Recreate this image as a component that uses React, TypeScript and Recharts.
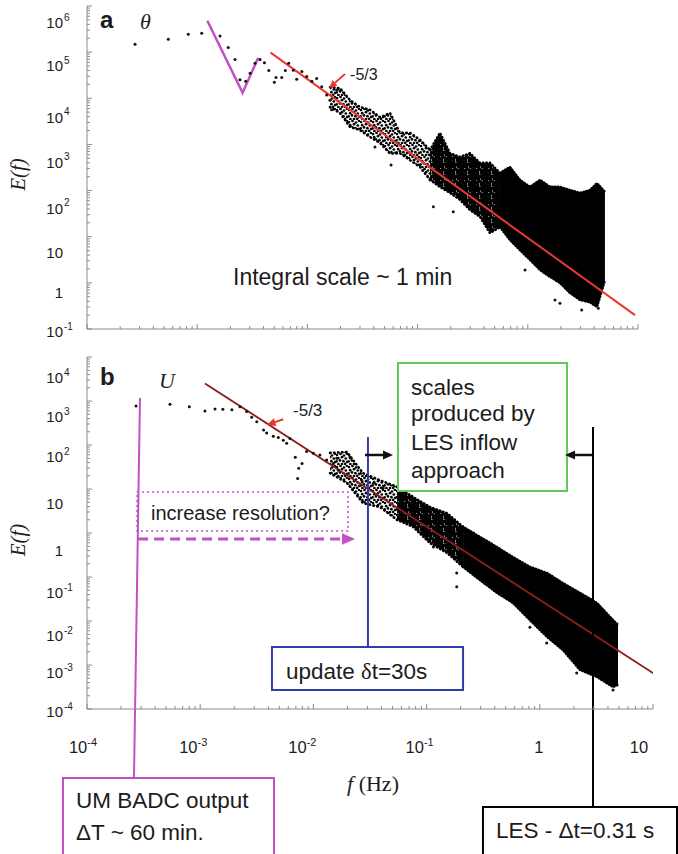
import React from 'react';
import {
  Area,
  ComposedChart,
  Line,
  ReferenceArea,
  ReferenceDot,
  ReferenceLine,
  Scatter,
  XAxis,
  YAxis,
} from 'recharts';

// panel a: theta
const thetaDotLogF = [-3.564, -3.262, -3.081, -2.959, -2.793, -2.718, -2.657, -2.612, -2.56, -2.52, -2.475, -2.43, -2.39, -2.35, -2.3, -2.285, -2.233, -2.2, -2.17, -2.128, -2.097, -2.05, -2.006, -1.96, -1.916, -1.87, -1.825, -1.795, -1.78, -1.735];
const thetaDotLogE = [5.17, 5.28, 5.39, 5.41, 5.35, 5.1, 4.84, 4.4, 4.37, 4.54, 4.76, 4.84, 4.77, 4.6, 4.35, 4.45, 4.45, 4.6, 4.76, 4.61, 4.41, 4.58, 4.47, 4.37, 4.43, 4.25, 4.07, 3.96, 3.75, 4.18];
const thetaOutLogF = [-1.387, -1.241, -0.857, -0.676, -0.025, 0.247, 0.292, 0.383, 0.489, 0.64];
const thetaOutLogE = [2.944, 2.554, 1.65, 1.54, 0.28, -0.37, -0.44, -0.155, -0.59, -0.55];
// cloud envelope, split where the dots thicken
const thetaSparseLogF = [-1.795, -1.704, -1.613, -1.523, -1.432, -1.341, -1.25, -1.16, -1.069, -0.978, -0.887];
const thetaSparseLogHi = [4.24, 4.22, 3.96, 3.81, 3.75, 3.59, 3.68, 3.25, 3.25, 3.1, 2.88];
const thetaSparseLogLo = [3.81, 3.68, 3.38, 3.31, 3.16, 3.03, 2.8, 2.81, 2.66, 2.51, 2.23];
const thetaMidLogF = [-0.887, -0.797, -0.706, -0.615, -0.525, -0.434, -0.343, -0.252];
const thetaMidLogHi = [2.88, 3.25, 2.81, 2.73, 2.81, 2.6, 2.6, 2.38];
const thetaMidLogLo = [2.23, 2.08, 1.95, 1.8, 1.58, 1.43, 1.08, 1.21];
const thetaDenseLogF = [-0.252, -0.162, -0.071, 0.02, 0.111, 0.201, 0.292, 0.383, 0.474, 0.564, 0.628, 0.7];
const thetaDenseLogHi = [2.38, 2.51, 2.23, 2.08, 2.23, 2.08, 2.08, 2.01, 1.95, 2.01, 2.16, 1.97];
const thetaDenseLogLo = [1.21, 0.93, 0.71, 0.5, 0.28, 0.13, 0.0, -0.22, -0.37, -0.42, -0.52, 0.06];
const thetaFitLogF = [-2.334, 0.973];
const thetaFitLogE = [4.99, -0.7];
const thetaVeeLogF = [-2.908, -2.588, -2.446];
const thetaVeeLogE = [5.68, 4.12, 4.88];

// panel b: U
const uDotLogF = [-3.567, -3.267, -3.096, -2.958, -2.869, -2.8, -2.72, -2.648, -2.59, -2.545, -2.5, -2.44, -2.413, -2.354, -2.31, -2.266, -2.236, -2.207, -2.16, -2.139, -2.13, -2.1, -2.06, -2.0, -1.942, -1.883, -1.824, -1.78, -1.794, -1.677, -1.573, -1.47, -1.383];
const uDotLogE = [2.886, 2.925, 2.87, 2.77, 2.82, 2.81, 2.8, 2.87, 2.76, 2.63, 2.53, 2.34, 2.27, 2.2, 2.17, 2.11, 2.04, 2.15, 1.72, 1.24, 1.47, 1.58, 1.85, 1.81, 1.77, 1.66, 1.58, 1.43, 1.7, 1.73, 1.2, 1.13, 1.02];
const uOutLogF = [-0.94, -0.734, -0.734, -0.087, 0.061, 0.326, 0.647];
const uOutLogE = [-0.32, -0.91, -1.22, -2.14, -2.5, -3.18, -3.57];
const uSparseLogF = [-1.853, -1.703, -1.562, -1.412, -1.261];
const uSparseLogHi = [1.82, 1.84, 1.36, 1.2, 1.05];
const uSparseLogLo = [1.36, 1.14, 0.68, 0.59, 0.3];
const uMidLogF = [-1.261, -1.12, -0.97, -0.82, -0.678];
const uMidLogHi = [1.05, 0.82, 0.59, 0.45, 0.14];
const uMidLogLo = [0.3, 0.14, -0.23, -0.45, -0.77];
const uDenseLogF = [-0.678, -0.528, -0.378, -0.237, -0.087, 0.064, 0.205, 0.355, 0.505, 0.647, 0.691];
const uDenseLogHi = [0.14, -0.09, -0.32, -0.55, -0.77, -0.91, -1.14, -1.36, -1.59, -1.98, -2.09];
const uDenseLogLo = [-0.77, -1.07, -1.36, -1.59, -1.98, -2.36, -2.66, -3.11, -3.27, -3.5, -3.45];
const uFitLogF = [-2.958, 1.003];
const uFitLogE = [3.4, -3.19];

// axes
const xDecades = [-4, -3, -2, -1, 0, 1];
const yDecadesA = [-1, 0, 1, 2, 3, 4, 5, 6];
const yDecadesB = [-4, -3, -2, -1, 0, 1, 2, 3, 4];
const minorSteps = [2, 3, 4, 5, 6, 7, 8, 9];

// label nudges (the printed labels sit a little off their ticks)
const yLabelDyA: Record<number, number> = { 6: 17, 5: 14, 4: 19, 3: 18, 2: 18, 1: 16.5, 0: 9.5, [-1]: 3 };
const yLabelDyB: Record<number, number> = { 4: 21, 3: 16, 2: 12, 1: 15, 0: 18, [-1]: 16, [-2]: 15, [-3]: 8, [-4]: 3 };
const xLabelDx: Record<number, number> = { [-4]: -4, [-3]: -7, [-2]: -11, [-1]: -7, 0: -1, 1: -14 };

// stipple textures for the cloud (12px tiles)
const stipple = [[1, 2], [4.5, 1], [8, 2.5], [11, 0.8], [2.2, 5.2], [6, 4.2], [9.8, 5.5], [0.6, 8.4], [4, 7.4], [7.4, 8.2], [11.2, 8.8], [2.4, 11.2], [6, 11], [9.2, 10.8]];
const stippleExtra = [[3, 3.2], [9.8, 2.8], [0.4, 4.4], [8, 6.6], [5.2, 6.2], [2, 9], [9.6, 7.6], [7.6, 10.6], [4.2, 9.6], [11.4, 11.6], [6.6, 1.6]];

const SANS = '"Liberation Sans", Arial, Helvetica, sans-serif';
const SERIF = '"Liberation Serif", "Times New Roman", serif';
const AXIS = '#8a8a8a';
const INK = '#1c1c1c';
const RED = '#e8392f';
const DARKRED = '#8e1d1d';
const MAGENTA = '#c24fc4';
const BLUE = '#2f3fa6';
const GREEN = '#62c957';

const p10 = (v: number) => Math.pow(10, v);
const toPoints = (lf: number[], le: number[]) => lf.map((v, i) => ({ f: p10(v), e: p10(le[i]) }));
const toCloud = (lf: number[], lo: number[], hi: number[]) =>
  lf.map((v, i) => ({ f: p10(v), range: [p10(lo[i]), p10(hi[i])] }));

function logTicks(decades: number[]) {
  const out: number[] = [];
  const top = decades[decades.length - 1];
  decades.forEach((k) => {
    out.push(p10(k));
    if (k < top) minorSteps.forEach((m) => out.push(m * p10(k)));
  });
  return out.sort((a, b) => a - b);
}

const decadeOf = (v: number) => {
  const l = Math.log10(v);
  const k = Math.round(l);
  return Math.abs(l - k) < 1e-6 ? k : null;
};

const labelParts = (k: number): [string, string] => (k === 0 ? ['1', ''] : k === 1 ? ['10', ''] : ['10', String(k)]);

const makeYTick = (dyMap: Record<number, number>) => (props: any) => {
  const { x, y, payload } = props;
  const k = decadeOf(payload.value);
  const major = k !== null;
  const [base, sup] = major ? labelParts(k as number) : ['', ''];
  const ly = y + (major ? dyMap[k as number] ?? 0 : 0);
  return (
    <g>
      <line x1={x} x2={x + (major ? 5 : 3)} y1={y} y2={y} stroke={AXIS} strokeWidth={1} />
      {major && (
        <text x={x - 24} y={ly} dy="0.35em" textAnchor="end" fontFamily={SANS} fontSize={15} fill={INK}>
          {base}
        </text>
      )}
      {major && sup && (
        <text x={x - 23} y={ly - 6} dy="0.35em" fontFamily={SANS} fontSize={10} fill={INK}>
          {sup}
        </text>
      )}
    </g>
  );
};

const makeXTick = (withLabels: boolean) => (props: any) => {
  const { x, y, payload } = props;
  const k = decadeOf(payload.value);
  const major = k !== null;
  const [base, sup] = major ? labelParts(k as number) : ['', ''];
  return (
    <g>
      <line x1={x} x2={x} y1={y} y2={y - (major ? 5 : 3)} stroke={AXIS} strokeWidth={1} />
      {withLabels && major && (
        <text x={x + (xLabelDx[k as number] ?? 0)} y={y + 38} dy="0.35em" textAnchor="middle" fontFamily={SANS} fontSize={16.5} fill={INK}>
          {base}
          {sup && (
            <tspan dy={-7} fontSize={11}>
              {sup}
            </tspan>
          )}
        </text>
      )}
    </g>
  );
};

const yTitle = (props: any) => {
  const vb = props.viewBox;
  const x = vb.x - 9;
  const y = vb.y + vb.height / 2 + 7;
  return (
    <text x={x} y={y} transform={`rotate(-90 ${x} ${y})`} textAnchor="middle" dominantBaseline="central" fontFamily={SERIF} fontStyle="italic" fontSize={21} fill={INK}>
      E(f)
    </text>
  );
};

const xTitle = (props: any) => {
  const vb = props.viewBox;
  return (
    <text x={vb.x + vb.width / 2 + 3} y={vb.y + 74} dy="0.35em" textAnchor="middle" fontFamily={SERIF} fontSize={22} fill={INK}>
      <tspan fontStyle="italic">f</tspan> (Hz)
    </text>
  );
};

const dotShape = (p: any) => <circle cx={p.cx} cy={p.cy} r={1.5} fill="#111" />;

function drawArrow(p: any, color: string, width: number, head: number, dash?: string) {
  const { x1, y1, x2, y2 } = p;
  const a = Math.atan2(y2 - y1, x2 - x1);
  const hx = x2 - head * Math.cos(a);
  const hy = y2 - head * Math.sin(a);
  const w = head * 0.45;
  const pts = `${x2},${y2} ${hx - w * Math.sin(a)},${hy + w * Math.cos(a)} ${hx + w * Math.sin(a)},${hy - w * Math.cos(a)}`;
  return (
    <g>
      <line x1={x1} y1={y1} x2={hx} y2={hy} stroke={color} strokeWidth={width} strokeDasharray={dash} />
      <polygon points={pts} fill={color} />
    </g>
  );
}

function arrow(key: string, from: number[], to: number[], color: string, width: number, head: number, dash?: string) {
  return (
    <ReferenceLine
      key={key}
      segment={[{ x: p10(from[0]), y: p10(from[1]) }, { x: p10(to[0]), y: p10(to[1]) }]}
      ifOverflow="visible"
      shape={(p: any) => drawArrow(p, color, width, head, dash)}
    />
  );
}

function rule(key: string, from: number[], to: number[], color: string, width: number) {
  return (
    <ReferenceLine
      key={key}
      segment={[{ x: p10(from[0]), y: p10(from[1]) }, { x: p10(to[0]), y: p10(to[1]) }]}
      ifOverflow="visible"
      stroke={color}
      strokeWidth={width}
    />
  );
}

function box(key: string, fx: number[], fy: number[], color: string, width: number, dash?: string, fill = '#fff') {
  return (
    <ReferenceArea
      key={key}
      x1={p10(fx[0])}
      x2={p10(fx[1])}
      y1={p10(fy[0])}
      y2={p10(fy[1])}
      ifOverflow="visible"
      fill={fill}
      fillOpacity={fill === 'none' ? 0 : 1}
      stroke={color}
      strokeWidth={width}
      strokeDasharray={dash}
    />
  );
}

function note(key: string, lf: number, le: number, content: React.ReactNode, size: number, extra: any = {}) {
  return (
    <ReferenceDot
      key={key}
      x={p10(lf)}
      y={p10(le)}
      ifOverflow="visible"
      shape={(p: any) => (
        <text x={p.cx} y={p.cy} dy="0.35em" fontFamily={SANS} fontSize={size} fill={INK} {...extra}>
          {content}
        </text>
      )}
    />
  );
}

// cloud of spectral estimates: stippled where sparse, solid core, beaded edge
function cloudAreas(sparse: any[], mid: any[], dense: any[]) {
  const common = { dataKey: 'range', type: 'linear' as const, stroke: '#000', strokeWidth: 2.6, strokeLinecap: 'round' as const, fillOpacity: 1, dot: false, activeDot: false, isAnimationActive: false };
  return [
    <Area key="sparse" data={sparse} {...common} strokeDasharray="0.5 3.5" fill="url(#cloudDots)" />,
    <Area key="mid" data={mid} {...common} strokeDasharray="0.5 3" fill="url(#cloudDotsDense)" />,
    <Area key="dense" data={dense} {...common} strokeDasharray="0.5 2.5" fill="#000" />,
  ];
}

function PanelA() {
  const sparse = toCloud(thetaSparseLogF, thetaSparseLogLo, thetaSparseLogHi);
  const mid = toCloud(thetaMidLogF, thetaMidLogLo, thetaMidLogHi);
  const dense = toCloud(thetaDenseLogF, thetaDenseLogLo, thetaDenseLogHi);
  return (
    <ComposedChart width={678} height={345} margin={{ top: 6, right: 40, bottom: 0, left: 27 }}>
      <XAxis
        dataKey="f"
        type="number"
        scale="log"
        domain={[1e-4, 10]}
        allowDataOverflow
        ticks={logTicks(xDecades)}
        interval={0}
        tick={makeXTick(false)}
        tickLine={false}
        tickSize={0}
        tickMargin={0}
        axisLine={{ stroke: AXIS }}
        height={16}
      />
      <YAxis
        type="number"
        scale="log"
        domain={[0.1, 1e6]}
        allowDataOverflow
        ticks={logTicks(yDecadesA)}
        interval={0}
        tick={makeYTick(yLabelDyA)}
        tickLine={false}
        tickSize={0}
        tickMargin={0}
        axisLine={{ stroke: AXIS }}
        width={60}
        label={{ content: yTitle }}
      />
      {cloudAreas(sparse, mid, dense)}
      <Scatter data={toPoints(thetaDotLogF, thetaDotLogE)} dataKey="e" shape={dotShape} isAnimationActive={false} />
      <Scatter data={toPoints(thetaOutLogF, thetaOutLogE)} dataKey="e" shape={dotShape} isAnimationActive={false} />
      <Line data={toPoints(thetaVeeLogF, thetaVeeLogE)} dataKey="e" type="linear" stroke={MAGENTA} strokeWidth={2.5} dot={false} activeDot={false} isAnimationActive={false} />
      <Line data={toPoints(thetaFitLogF, thetaFitLogE)} dataKey="e" type="linear" stroke={RED} strokeWidth={2} dot={false} activeDot={false} isAnimationActive={false} />
      {arrow('a-arrow', [-1.659, 4.526], [-1.804, 4.223], RED, 1.8, 8)}
      {note('a-slope', -1.613, 4.526, '-5/3', 16)}
      {note('a-tag', -3.882, 5.697, 'a', 24, { fontWeight: 'bold' })}
      {note('a-var', -3.519, 5.675, 'θ', 22, { fontFamily: SERIF, fontStyle: 'italic' })}
      {note('a-int', -2.675, 0.127, 'Integral scale ~ 1 min', 23)}
    </ComposedChart>
  );
}

function PanelB() {
  const sparse = toCloud(uSparseLogF, uSparseLogLo, uSparseLogHi);
  const mid = toCloud(uMidLogF, uMidLogLo, uMidLogHi);
  const dense = toCloud(uDenseLogF, uDenseLogLo, uDenseLogHi);
  return (
    <ComposedChart width={678} height={509} margin={{ top: 12, right: 25, bottom: 85, left: 27 }}>
      <XAxis
        dataKey="f"
        type="number"
        scale="log"
        domain={[1e-4, 10]}
        allowDataOverflow
        ticks={logTicks(xDecades)}
        interval={0}
        tick={makeXTick(true)}
        tickLine={false}
        tickSize={0}
        tickMargin={0}
        axisLine={{ stroke: AXIS }}
        height={60}
        label={{ content: xTitle }}
      />
      <YAxis
        type="number"
        scale="log"
        domain={[1e-4, 1e4]}
        allowDataOverflow
        ticks={logTicks(yDecadesB)}
        interval={0}
        tick={makeYTick(yLabelDyB)}
        tickLine={false}
        tickSize={0}
        tickMargin={0}
        axisLine={{ stroke: AXIS }}
        width={60}
        label={{ content: yTitle }}
      />
      {cloudAreas(sparse, mid, dense)}
      <Scatter data={toPoints(uDotLogF, uDotLogE)} dataKey="e" shape={dotShape} isAnimationActive={false} />
      <Scatter data={toPoints(uOutLogF, uOutLogE)} dataKey="e" shape={dotShape} isAnimationActive={false} />
      <Line data={toPoints(uFitLogF, uFitLogE)} dataKey="e" type="linear" stroke={DARKRED} strokeWidth={1.8} dot={false} activeDot={false} isAnimationActive={false} />
      {arrow('b-arrow', [-2.266, 2.584], [-2.413, 2.455], RED, 2, 9)}
      {note('b-slope', -2.18, 2.795, '-5/3', 17)}
      {note('b-tag', -3.885, 3.545, 'b', 24, { fontWeight: 'bold' })}
      {note('b-var', -3.364, 3.477, 'U', 22, { fontFamily: SERIF, fontStyle: 'italic' })}

      {/* UM output marker */}
      {rule('um-line', [-3.532, 3.068], [-3.585, -5.57], MAGENTA, 2)}
      {box('um-box', [-4.212, -2.348], [-5.57, -7.8], MAGENTA, 2)}
      {note('um-1', -4.097, -6.068, 'UM BADC output', 22.5)}
      {note('um-2', -4.097, -6.795, 'ΔT ~ 60 min.', 22.5)}

      {/* resolution hint */}
      {box('res-box', [-3.558, -1.694], [0.932, 0.045], MAGENTA, 1.5, '2 3', 'none')}
      {note('res-txt', -3.435, 0.455, 'increase resolution?', 20)}
      {arrow('res-arrow', [-3.549, -0.136], [-1.632, -0.136], MAGENTA, 3, 13, '10 6')}

      {/* update interval */}
      {rule('upd-line', [-1.518, 2.18], [-1.518, -2.59], BLUE, 2)}
      {box('upd-box', [-2.366, -0.678], [-2.59, -3.57], BLUE, 2)}
      {note('upd-txt', -2.242, -3.136, <>update <tspan fontFamily={SERIF}>δ</tspan>t=30s</>, 22.5)}

      {/* LES timestep */}
      {rule('les-line', [0.47, 2.41], [0.47, -6.23], '#000', 2)}
      {box('les-box', [-0.502, 1.212], [-6.227, -7.8], '#000', 2)}
      {note('les-txt', -0.387, -6.75, 'LES - Δt=0.31 s', 22.5)}

      {/* LES inflow scales */}
      {box('les-scales', [-1.253, 0.24], [3.864, 0.955], GREEN, 2)}
      {note('sc-1', -1.138, 3.318, 'scales', 22.5)}
      {note('sc-2', -1.138, 2.727, 'produced by', 22.5)}
      {note('sc-3', -1.138, 2.068, 'LES inflow', 22.5)}
      {note('sc-4', -1.138, 1.432, 'approach', 22.5)}
      {arrow('sc-left', [-1.544, 1.773], [-1.297, 1.773], '#111', 2.5, 10)}
      {arrow('sc-right', [0.461, 1.773], [0.223, 1.773], '#111', 2.5, 10)}
    </ComposedChart>
  );
}

export default function App() {
  return (
    <div style={{ position: 'relative', width: 678, height: 854, background: '#fff', overflow: 'hidden' }}>
      <style>{'body { margin: 0; }'}</style>
      <svg width={0} height={0} style={{ position: 'absolute' }}>
        <defs>
          <pattern id="cloudDots" width={12} height={12} patternUnits="userSpaceOnUse">
            {stipple.map(([cx, cy], i) => (
              <circle key={i} cx={cx} cy={cy} r={1.35} fill="#000" />
            ))}
          </pattern>
          <pattern id="cloudDotsDense" width={12} height={12} patternUnits="userSpaceOnUse">
            {stipple.concat(stippleExtra).map(([cx, cy], i) => (
              <circle key={i} cx={cx} cy={cy} r={1.9} fill="#000" />
            ))}
          </pattern>
        </defs>
      </svg>
      <div style={{ position: 'absolute', left: 0, top: 0 }}>
        <PanelA />
      </div>
      <div style={{ position: 'absolute', left: 0, top: 345 }}>
        <PanelB />
      </div>
    </div>
  );
}
